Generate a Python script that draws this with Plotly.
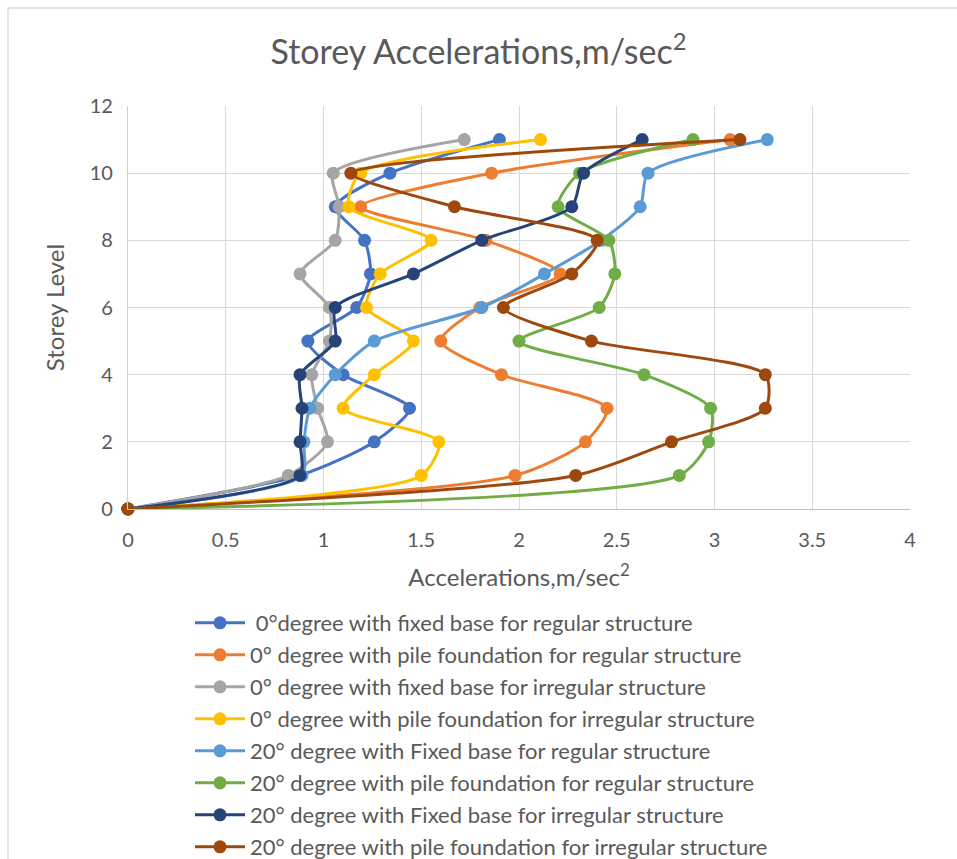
import plotly.graph_objects as go

storeys = list(range(12))

names = [
    " 0°degree with fixed base for regular structure",
    "0° degree with pile foundation for regular structure",
    "0° degree with fixed base for irregular structure",
    "0° degree with pile foundation for irregular structure",
    "20° degree with Fixed base for regular structure",
    "20° degree with pile foundation for regular structure",
    "20° degree with Fixed base for irregular structure",
    "20° degree with pile foundation for irregular structure",
]

s0_fixed_reg = [0, 0.88, 1.26, 1.44, 1.10, 0.92, 1.17, 1.24, 1.21, 1.06, 1.34, 1.90]
s0_pile_reg = [0, 1.98, 2.34, 2.45, 1.91, 1.60, 1.80, 2.21, 1.83, 1.19, 1.86, 3.08]
s0_fixed_irr = [0, 0.82, 1.02, 0.97, 0.94, 1.03, 1.03, 0.88, 1.06, 1.08, 1.05, 1.72]
s0_pile_irr = [0, 1.50, 1.59, 1.10, 1.26, 1.46, 1.22, 1.29, 1.55, 1.13, 1.19, 2.11]
s20_fixed_reg = [0, 0.89, 0.90, 0.93, 1.06, 1.26, 1.81, 2.13, 2.42, 2.62, 2.66, 3.27]
s20_pile_reg = [0, 2.82, 2.97, 2.98, 2.64, 2.00, 2.41, 2.49, 2.46, 2.20, 2.31, 2.89]
s20_fixed_irr = [0, 0.88, 0.88, 0.89, 0.88, 1.06, 1.06, 1.46, 1.81, 2.27, 2.33, 2.63]
s20_pile_irr = [0, 2.29, 2.78, 3.26, 3.26, 2.37, 1.92, 2.27, 2.40, 1.67, 1.14, 3.13]

series = [s0_fixed_reg, s0_pile_reg, s0_fixed_irr, s0_pile_irr,
          s20_fixed_reg, s20_pile_reg, s20_fixed_irr, s20_pile_irr]
colors = ["#4472C4", "#ED7D31", "#A5A5A5", "#FFC000",
          "#5B9BD5", "#70AD47", "#264478", "#9E480E"]

FONT = "Lato"
GREY = "#595959"

fig = go.Figure()
for i, (nm, vals, col) in enumerate(zip(names, series, colors)):
    fig.add_trace(go.Scatter(
        x=vals, y=storeys, name=nm, mode="lines+markers",
        line=dict(color=col, width=3, shape="spline", smoothing=0.7),
        marker=dict(color=col, size=13),
        legendgroup=f"g{i}", cliponaxis=False,
    ))

fig.update_layout(
    width=957, height=859,
    margin=dict(l=128, r=47, t=106, b=350, autoexpand=False),
    paper_bgcolor="white", plot_bgcolor="white",
    font=dict(family=FONT, color=GREY, size=20),
    title=dict(text="Storey Accelerations,m/sec<sup>2</sup>", x=0.5, xanchor="center",
               y=1 - 52 / 859, yanchor="middle",
               font=dict(family=FONT, size=34, color=GREY)),
    xaxis=dict(range=[0, 4], dtick=0.5, tick0=0, showgrid=True, gridcolor="#D9D9D9",
               gridwidth=1.3, zeroline=False, showline=True, linecolor="#BFBFBF",
               linewidth=1.3, ticks="", ticklabelstandoff=13, tickfont=dict(size=20, color=GREY),
               title=dict(text="Accelerations,m/sec<sup>2</sup>", standoff=19,
                          font=dict(size=24, color=GREY))),
    yaxis=dict(range=[0, 12], dtick=2, tick0=0, showgrid=True, gridcolor="#D9D9D9",
               gridwidth=1.3, zeroline=False, showline=True, linecolor="#D0D0D0",
               linewidth=1.3, ticks="", ticklabelstandoff=10, tickfont=dict(size=20, color=GREY),
               title=dict(text="Storey Level", standoff=18,
                          font=dict(size=24, color=GREY))),
    legend=dict(x=(190 - 128) / 782, xanchor="left", y=(509 - 602) / 403, yanchor="top",
                font=dict(size=22, color=GREY), tracegroupgap=0.4,
                bgcolor="rgba(0,0,0,0)", itemwidth=50),
    shapes=[dict(type="rect", xref="paper", yref="paper",
                 x0=(8 - 128) / 782, x1=(1000 - 128) / 782,
                 y0=(509 - 900) / 403, y1=(509 - 8) / 403,
                 line=dict(color="#D9D9D9", width=1.3), layer="below")],
)

fig.write_html("out.html")
